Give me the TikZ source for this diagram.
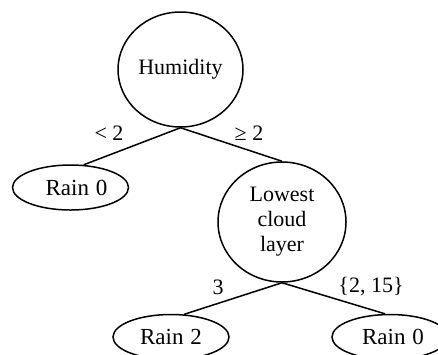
\documentclass[tikz,border=0pt]{standalone}
\usepackage{fontspec}
\setmainfont{Liberation Serif}
\usetikzlibrary{shapes.geometric}
\begin{document}
\begin{tikzpicture}[x=1pt,y=-1pt,
  every node/.style={font=\fontsize{22}{25}\selectfont},
  treenode/.style={draw,line width=1.5pt,ellipse,inner sep=0pt,align=center},
  leafnode/.style={treenode,minimum width=116pt,minimum height=45pt,font=\fontsize{23}{25}\selectfont},
  branch/.style={line width=1.5pt},
  cond/.style={inner sep=0pt}]
\useasboundingbox (0,0) rectangle (438,354);
\clip (0,0) rectangle (438,354);
\node[treenode,minimum width=125pt,minimum height=115pt] (hum) at (180.5,69.5) {Humidity};
\node[leafnode] (r0a) at (70.5,187.5) {\hspace*{12pt}Rain\hspace{0.3em}0};
\node[treenode,minimum width=128pt,minimum height=120pt] (low) at (282,222) {Lowest\\cloud\\layer};
\node[leafnode] (r2) at (171,337) {Rain\hspace{0.3em}2};
\node[leafnode] (r0b) at (390,337) {\hspace*{6pt}Rain\hspace{0.3em}0};
\draw[branch] (hum.south) -- (r0a.60);
\draw[branch] (hum.south) -- (low.north);
\draw[branch] (low.south) -- (r2.60);
\draw[branch] (low.south) -- (r0b.102);
\node[cond] (c1) at (109,133) {< 2};
\node[cond] (c2) at (249,133) {≥ 2};
\node[cond] (c3) at (218,287) {3};
\node[cond] (c4) at (371,287) {\{2, 15\}};
\end{tikzpicture}
\end{document}
